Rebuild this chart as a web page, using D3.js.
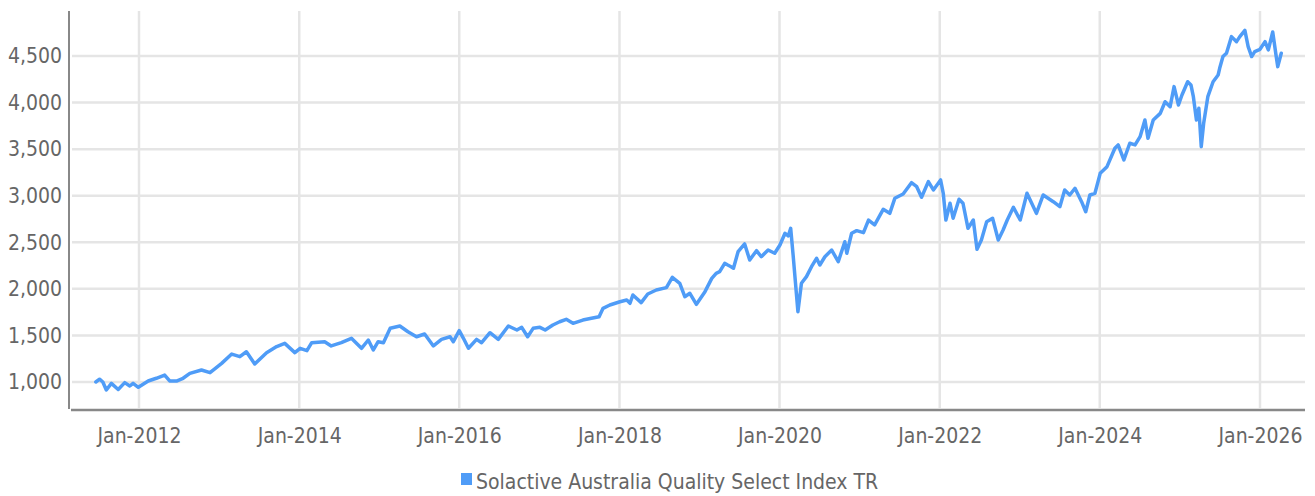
<!DOCTYPE html>
<html>
<head>
    <meta charset="utf-8"/>
    <title>Solactive Australia Quality Select Index TR</title>
    <script src="https://d3js.org/d3.v7.min.js"></script>
</head>
<style>
    body {
        margin: 0;
        background: #fff;
    }
    svg text {
        font-family: "Liberation Sans Narrow", "DejaVu Sans Condensed", sans-serif;
        fill: #666;
    }
</style>
<body>
<svg class="main" width="1315" height="496"></svg>
</body>

<script>
    var seriesName = "Solactive Australia Quality Select Index TR"

    var dates = [
        "2011-06-18", "2011-07-05", "2011-07-20", "2011-08-05", "2011-08-28", "2011-09-28", "2011-10-28", "2011-11-20",
        "2011-12-05", "2011-12-29", "2012-02-12", "2012-03-20", "2012-04-27", "2012-05-20", "2012-06-20", "2012-07-20",
        "2012-08-20", "2012-10-12", "2012-11-20", "2013-01-12", "2013-02-27", "2013-04-05", "2013-05-05", "2013-06-12",
        "2013-08-05", "2013-09-20", "2013-10-27", "2013-12-12", "2014-01-05", "2014-02-05", "2014-02-27", "2014-04-27",
        "2014-05-27", "2014-07-12", "2014-08-27", "2014-10-12", "2014-11-12", "2014-12-05", "2014-12-27", "2015-01-20",
        "2015-02-20", "2015-04-05", "2015-05-12", "2015-06-20", "2015-07-27", "2015-09-05", "2015-10-12", "2015-11-20",
        "2015-12-05", "2016-01-01", "2016-01-20", "2016-02-12", "2016-03-20", "2016-04-12", "2016-05-20", "2016-06-27",
        "2016-08-12", "2016-09-20", "2016-10-12", "2016-11-08", "2016-12-03", "2017-01-03", "2017-01-27", "2017-03-03",
        "2017-04-03", "2017-05-03", "2017-06-03", "2017-07-18", "2017-08-26", "2017-09-30", "2017-10-18", "2017-11-18",
        "2018-01-03", "2018-02-03", "2018-02-18", "2018-03-03", "2018-04-10", "2018-05-10", "2018-06-18", "2018-08-03",
        "2018-08-30", "2018-10-03", "2018-10-26", "2018-11-18", "2018-12-18", "2019-01-26", "2019-02-26", "2019-03-18",
        "2019-04-03", "2019-04-26", "2019-05-10", "2019-05-25", "2019-06-05", "2019-06-26", "2019-07-26", "2019-08-18",
        "2019-09-18", "2019-10-10", "2019-11-10", "2019-12-10", "2020-01-03", "2020-01-26", "2020-02-10", "2020-02-21",
        "2020-03-03", "2020-03-25", "2020-04-10", "2020-05-03", "2020-05-26", "2020-06-18", "2020-07-03", "2020-07-26",
        "2020-08-26", "2020-09-25", "2020-10-25", "2020-11-03", "2020-11-25", "2020-12-18", "2021-01-18", "2021-02-10",
        "2021-03-10", "2021-04-18", "2021-05-18", "2021-06-10", "2021-07-18", "2021-08-25", "2021-09-18", "2021-10-10",
        "2021-11-10", "2021-12-03", "2022-01-05", "2022-01-17", "2022-01-29", "2022-02-17", "2022-03-03", "2022-03-30",
        "2022-04-17", "2022-05-10", "2022-06-03", "2022-06-20", "2022-07-10", "2022-08-03", "2022-08-30", "2022-09-25",
        "2022-10-17", "2022-11-05", "2022-12-03", "2023-01-03", "2023-02-03", "2023-03-18", "2023-04-18", "2023-06-03",
        "2023-07-03", "2023-07-25", "2023-08-17", "2023-09-10", "2023-10-10", "2023-10-29", "2023-11-17", "2023-12-10",
        "2024-01-03", "2024-02-03", "2024-03-10", "2024-03-25", "2024-04-20", "2024-05-17", "2024-06-10", "2024-07-03",
        "2024-07-25", "2024-08-08", "2024-09-01", "2024-10-03", "2024-10-25", "2024-11-17", "2024-12-05", "2024-12-25",
        "2025-01-10", "2025-02-05", "2025-02-20", "2025-03-03", "2025-03-17", "2025-03-28", "2025-04-08", "2025-04-19",
        "2025-05-08", "2025-06-01", "2025-06-24", "2025-07-01", "2025-07-16", "2025-08-01", "2025-08-24", "2025-09-16",
        "2025-10-01", "2025-10-24", "2025-11-08", "2025-11-24", "2025-12-08", "2026-01-01", "2026-01-24", "2026-02-08",
        "2026-02-28", "2026-03-16", "2026-03-23", "2026-04-08"
    ]

    var values = [
        1000, 1030, 1000, 914, 985, 920, 993, 957,
        986, 943, 1011, 1040, 1075, 1011, 1010, 1040,
        1093, 1129, 1100, 1200, 1300, 1272, 1325, 1193,
        1315, 1380, 1415, 1315, 1362, 1336, 1422, 1433,
        1387, 1422, 1469, 1362, 1451, 1344, 1433, 1422,
        1577, 1601, 1540, 1486, 1515, 1387, 1458, 1486,
        1433, 1551, 1469, 1362, 1458, 1422, 1529, 1458,
        1601, 1558, 1587, 1486, 1576, 1587, 1558, 1612,
        1647, 1673, 1630, 1665, 1684, 1701, 1791, 1827,
        1862, 1880, 1845, 1934, 1852, 1945, 1988, 2013,
        2124, 2060, 1916, 1952, 1834, 1970, 2113, 2167,
        2184, 2274, 2256, 2238, 2221, 2399, 2482, 2310,
        2410, 2345, 2417, 2382, 2471, 2597, 2568, 2650,
        2364, 1755, 2060, 2131, 2238, 2328, 2256, 2345,
        2417, 2292, 2506, 2382, 2597, 2625, 2603, 2739,
        2686, 2854, 2811, 2972, 3019, 3140, 3097, 2983,
        3151, 3062, 3169, 3026, 2739, 2919, 2758, 2962,
        2919, 2650, 2739, 2425, 2525, 2721, 2758, 2525,
        2632, 2739, 2876, 2739, 3026, 2811, 3008, 2936,
        2882, 3062, 3008, 3080, 2936, 2828, 3008, 3026,
        3240, 3312, 3509, 3545, 3384, 3563, 3545, 3634,
        3813, 3616, 3813, 3884, 4009, 3956, 4171, 3974,
        4081, 4224, 4189, 4063, 3813, 3939, 3527, 3777,
        4063, 4224, 4296, 4368, 4494, 4530, 4708, 4654,
        4708, 4775, 4601, 4494, 4547, 4572, 4654, 4565,
        4758, 4494, 4386, 4530
    ]

    var yTicks = [1000, 1500, 2000, 2500, 3000, 3500, 4000, 4500]
    var xTicks = ["2012-01-01", "2014-01-01", "2016-01-01", "2018-01-01",
        "2020-01-01", "2022-01-01", "2024-01-01", "2026-01-01"]

    var parseDate = d3.timeParse("%Y-%m-%d")
    var data = dates.map(function (d, i) {
        return {date: parseDate(d), value: values[i]}
    })

    var plotLeft = 69, plotRight = 1305, plotTop = 11, plotBottom = 409

    // anchor the scales on the labelled gridlines, then stretch to the plot edges
    var xScale = d3.scaleTime()
        .domain([parseDate(xTicks[0]), parseDate(xTicks[xTicks.length - 1])])
        .range([139, 1260])
    xScale.domain([xScale.invert(plotLeft), xScale.invert(plotRight)]).range([plotLeft, plotRight])

    var yScale = d3.scaleLinear()
        .domain([1000, 4500])
        .range([382, 56])
    yScale.domain([yScale.invert(plotBottom), yScale.invert(plotTop)]).range([plotBottom, plotTop])

    var svg = d3.select("svg.main")

    // horizontal gridlines
    svg.append("g")
        .selectAll("line")
        .data(yTicks)
        .enter()
        .append("line")
        .attr("x1", plotLeft + 3)
        .attr("x2", plotRight)
        .attr("y1", function (d) { return yScale(d) })
        .attr("y2", function (d) { return yScale(d) })
        .attr("stroke", "#e5e5e5")
        .attr("stroke-width", 2.5)

    // vertical gridlines
    svg.append("g")
        .selectAll("line")
        .data(xTicks)
        .enter()
        .append("line")
        .attr("x1", function (d) { return xScale(parseDate(d)) })
        .attr("x2", function (d) { return xScale(parseDate(d)) })
        .attr("y1", plotTop)
        .attr("y2", plotBottom - 1)
        .attr("stroke", "#e5e5e5")
        .attr("stroke-width", 2.5)

    // y axis
    var yAxis = d3.axisLeft(yScale)
        .tickValues(yTicks)
        .tickFormat(d3.format(","))
        .tickSize(0)
        .tickPadding(7)
    var yg = svg.append("g")
        .attr("transform", "translate(" + plotLeft + ",0)")
        .call(yAxis)
    yg.select(".domain").remove()
    yg.selectAll("text").style("font-size", "21px").attr("fill", "#666")
    svg.append("line")
        .attr("x1", plotLeft).attr("x2", plotLeft)
        .attr("y1", plotTop).attr("y2", plotBottom)
        .attr("stroke", "#888").attr("stroke-width", 2)

    // x axis
    var xAxis = d3.axisBottom(xScale)
        .tickValues(xTicks.map(parseDate))
        .tickFormat(d3.timeFormat("%b-%Y"))
        .tickSize(0)
        .tickPadding(18)
    var xg = svg.append("g")
        .attr("transform", "translate(0," + (plotBottom + 1) + ")")
        .call(xAxis)
    xg.select(".domain").remove()
    xg.selectAll("text").style("font-size", "21px").attr("fill", "#666")
    svg.append("line")
        .attr("x1", plotLeft + 2).attr("x2", plotRight)
        .attr("y1", plotBottom + 1).attr("y2", plotBottom + 1)
        .attr("stroke", "#888").attr("stroke-width", 2.5)

    // series
    var line = d3.line()
        .x(function (d) { return xScale(d.date) })
        .y(function (d) { return yScale(d.value) })

    svg.append("path")
        .datum(data)
        .attr("d", line)
        .attr("fill", "none")
        .attr("stroke", "#4f9cf7")
        .attr("stroke-width", 3.5)
        .attr("stroke-linejoin", "round")
        .attr("stroke-linecap", "round")

    // legend
    var legend = svg.append("g").attr("transform", "translate(461,473)")
    legend.append("rect")
        .attr("width", 11).attr("height", 12)
        .attr("fill", "#4f9cf7")
    legend.append("text")
        .attr("x", 15).attr("y", 16)
        .style("font-size", "21px")
        .text(seriesName)
</script>

</html>
